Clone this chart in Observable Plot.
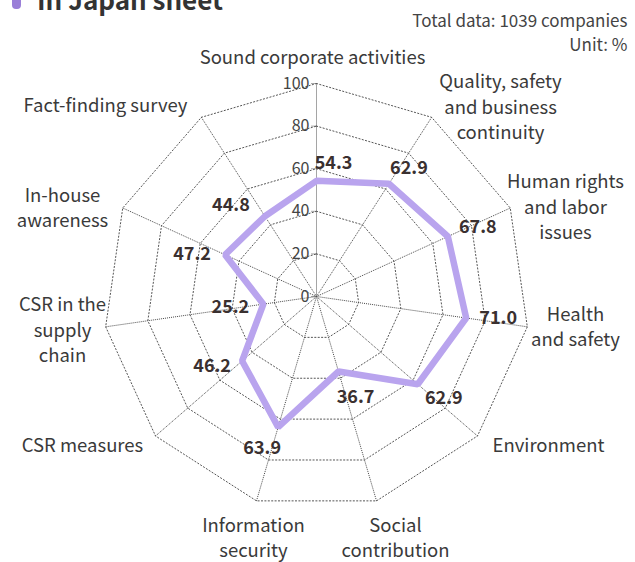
<!DOCTYPE html>
<html><head><meta charset="utf-8">
<script src="https://cdn.jsdelivr.net/npm/d3@7"></script>
<script src="https://cdn.jsdelivr.net/npm/@observablehq/plot@0.6"></script>
<style>
body{margin:0;background:#fff;overflow:hidden;}
#wrap{position:relative;width:635px;height:562px;overflow:hidden;font-family:"Noto Sans CJK KR","Noto Sans",sans-serif;}
#title{position:absolute;left:37px;top:-17px;font-weight:bold;font-size:26px;color:#333;white-space:nowrap;line-height:32px;}
#dot{position:absolute;left:12px;top:-17px;width:9px;height:26px;border-radius:4px;background:#9a7fd8;}
#chart{position:absolute;left:0;top:0;}
</style></head>
<body>
<div id="wrap">
  <div id="chart"></div>
  <div id="dot"></div>
  <div id="title">In Japan sheet</div>
</div>
<script>
// ---- data ----
const categories = [
  "Sound corporate activities",
  "Quality, safety\nand business\ncontinuity",
  "Human rights\nand labor\nissues",
  "Health\nand safety",
  "Environment",
  "Social\ncontribution",
  "Information\nsecurity",
  "CSR measures",
  "CSR in the\nsupply\nchain",
  "In-house\nawareness",
  "Fact-finding survey"
];
const values = [54.3, 62.9, 67.8, 71.0, 62.9, 36.7, 63.9, 46.2, 25.2, 47.2, 44.8];
const tickValues = [0, 20, 40, 60, 80, 100];
const ringValues = [20, 40, 60, 80, 100];
const noteLines = ["Total data: 1039 companies", "Unit: %"];

// ---- layout (pixels) ----
const W = 635, H = 562, CX = 316, CY = 296, K = 2.13; // px per unit
const labelCentersPx = [[312,55],[500,105],[565,205],[575,325],[548,443],[395,536],[253,536],[82,443],[62,328],[62,206],[105,103]];
const valueOffsetsPx = [[17,-18],[20,-16],[30,-9],[32,0],[26,14],[17,26],[-16,21],[-30,5],[-33,3],[-33,-1],[-34,-11]];

const n = categories.length;
const ang = i => i * 2 * Math.PI / n;
const polar = (i, v) => ({x: v * Math.sin(ang(i)), y: v * Math.cos(ang(i))});
const fromPx = ([px, py]) => ({x: (px - CX) / K, y: (CY - py) / K});

const rings = ringValues.flatMap(r => categories.map((c, i) => ({...polar(i, r), r})));
const spokes = categories.map((c, i) => ({x1: 0, y1: 0, x2: polar(i, 100).x, y2: polar(i, 100).y}));
const series = values.map((v, i) => ({...polar(i, v), v}));
const valueLabels = values.map((v, i) => {
  const p = polar(i, v);
  return {x: p.x + valueOffsetsPx[i][0] / K, y: p.y - valueOffsetsPx[i][1] / K, t: v.toFixed(1)};
});
const catLabels = categories.map((c, i) => ({...fromPx(labelCentersPx[i]), t: c}));
const ticksData = tickValues.map(t => ({y: t, t: String(t)}));
const notes = noteLines.map((t, i) => ({...fromPx([627, 21 + i * 24]), t}));

const chart = Plot.plot({
  width: W, height: H, margin: 0,
  x: {domain: [-CX / K, (W - CX) / K], axis: null},
  y: {domain: [-(H - CY) / K, CY / K], axis: null},
  style: {fontFamily: '"Noto Sans CJK KR","Noto Sans",sans-serif', background: "#fff"},
  marks: [
    Plot.line(rings, {x: "x", y: "y", z: "r", curve: "linear-closed", stroke: "#555", strokeWidth: 1, strokeDasharray: "1.2,2.2"}),
    Plot.link(spokes, {x1: "x1", y1: "y1", x2: "x2", y2: "y2", stroke: "#4a4a4a", strokeWidth: 1, strokeDasharray: "1,1"}),
    Plot.link(ticksData, {x1: -5 / K, x2: 0, y1: "y", y2: "y", stroke: "#555", strokeWidth: 1, strokeDasharray: "1,1"}),
    Plot.text(ticksData, {x: 0, y: "y", text: "t", textAnchor: "end", dx: -7, fontSize: 16, fill: "#444"}),
    Plot.line(series, {x: "x", y: "y", curve: "linear-closed", stroke: "#b9a4ee", strokeWidth: 6.5, strokeLinejoin: "miter"}),
    Plot.text(valueLabels, {x: "x", y: "y", text: "t", fontSize: 18, fontWeight: "bold", fill: "#3a3030"}),
    Plot.text(catLabels, {x: "x", y: "y", text: "t", fontSize: 18.5, fill: "#3a3a3a", lineHeight: 1.36}),
    Plot.text(notes, {x: "x", y: "y", text: "t", textAnchor: "end", fontSize: 17, fill: "#444"})
  ]
});
document.getElementById("chart").appendChild(chart);
</script>
</body></html>
